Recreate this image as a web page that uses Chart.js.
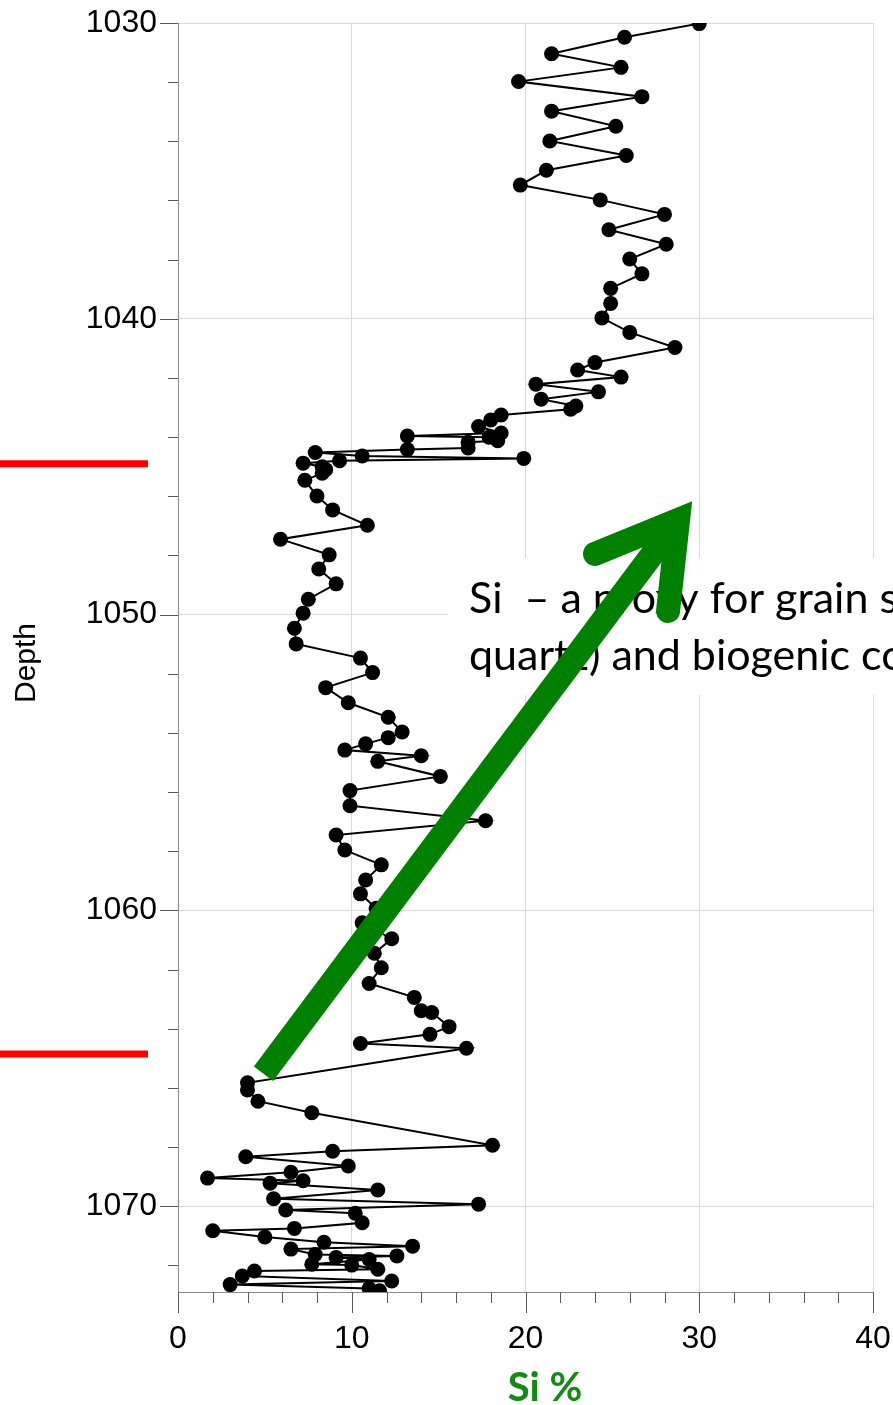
<!DOCTYPE html>
<html>
<head>
<meta charset="utf-8">
<title>Si % vs Depth</title>
<script src="https://cdn.jsdelivr.net/npm/chart.js@4.4.1/dist/chart.umd.min.js"></script>
<style>
  html, body { margin: 0; padding: 0; background: #ffffff; overflow: hidden; }
  canvas { display: block; }
</style>
</head>
<body>
<canvas id="profile" width="893" height="1405"></canvas>
<script>
// Sample depths (m) down the core and the measured silicon content (%)
const depthM = [
  1030.02, 1030.48, 1031.04, 1031.50, 1031.98, 1032.49, 1032.98, 1033.49, 1033.99, 1034.48,
  1034.98, 1035.48, 1035.98, 1036.47, 1036.99, 1037.48, 1037.98, 1038.48, 1038.97, 1039.48,
  1039.97, 1040.46, 1040.97, 1041.48, 1041.73, 1041.97, 1042.21, 1042.47, 1042.72, 1042.95,
  1043.06, 1043.25, 1043.42, 1043.64, 1043.86, 1043.96, 1044.00, 1044.12, 1044.17, 1044.37,
  1044.42, 1044.52, 1044.64, 1044.72, 1044.80, 1044.88, 1045.00, 1045.10, 1045.22, 1045.46,
  1045.99, 1046.46, 1046.98, 1047.45, 1047.98, 1048.46, 1048.96, 1049.48, 1049.95, 1050.46,
  1050.99, 1051.47, 1051.96, 1052.47, 1052.98, 1053.47, 1053.97, 1054.16, 1054.37, 1054.58,
  1054.77, 1054.96, 1055.47, 1055.95, 1056.46, 1056.97, 1057.45, 1057.96, 1058.46, 1058.97,
  1059.44, 1059.93, 1060.42, 1060.96, 1061.45, 1061.94, 1062.47, 1062.94, 1063.39, 1063.45,
  1063.93, 1064.19, 1064.50, 1064.66, 1065.83, 1066.07, 1066.45, 1066.84, 1067.94, 1068.14,
  1068.33, 1068.64, 1068.85, 1069.05, 1069.14, 1069.22, 1069.45, 1069.75, 1069.93, 1070.13,
  1070.24, 1070.56, 1070.75, 1070.83, 1071.04, 1071.22, 1071.35, 1071.45, 1071.63, 1071.68,
  1071.73, 1071.80, 1071.96, 1071.99, 1072.13, 1072.19, 1072.36, 1072.53, 1072.65, 1072.78,
  1072.86
];
const siPct = [
  30.0, 25.7, 21.5, 25.5, 19.6, 26.7, 21.5, 25.2, 21.4, 25.8,
  21.2, 19.7, 24.3, 28.0, 24.8, 28.1, 26.0, 26.7, 24.9, 24.9,
  24.4, 26.0, 28.6, 24.0, 23.0, 25.5, 20.6, 24.2, 20.9, 22.9,
  22.6, 18.6, 18.0, 17.3, 18.6, 13.2, 17.9, 18.4, 16.7, 16.7,
  13.2, 7.9, 10.6, 19.9, 9.3, 7.2, 8.3, 8.5, 8.3, 7.3,
  8.0, 8.9, 10.9, 5.9, 8.7, 8.1, 9.1, 7.5, 7.2, 6.7,
  6.8, 10.5, 11.2, 8.5, 9.8, 12.1, 12.9, 12.1, 10.8, 9.6,
  14.0, 11.5, 15.1, 9.9, 9.9, 17.7, 9.1, 9.6, 11.7, 10.8,
  10.5, 11.4, 10.6, 12.3, 11.3, 11.7, 11.0, 13.6, 14.0, 14.6,
  15.6, 14.5, 10.5, 16.6, 4.0, 4.0, 4.6, 7.7, 18.1, 8.9,
  3.9, 9.8, 6.5, 1.7, 7.2, 5.3, 11.5, 5.5, 17.3, 6.2,
  10.2, 10.6, 6.7, 2.0, 5.0, 8.4, 13.5, 6.5, 7.9, 12.6,
  9.1, 11.0, 7.7, 10.0, 11.5, 4.4, 3.7, 12.3, 3.0, 11.0,
  11.6
];

// Labelled tick values on each axis
const siTickLabels = [0, 10, 20, 30, 40];
const depthTickLabels = [1030, 1040, 1050, 1060, 1070];

// Depths of the two interval boundaries marked in red
const boundaryDepths = [1044.9, 1064.85];

// Trend arrow: tail and head vertex in (Si %, depth)
const trendTail = { si: 4.92, depth: 1065.52 };
const trendHead = { si: 28.78, depth: 1046.80 };

const noteLines = ['Si  \u2013 a proxy for grain size', 'quartz) and biogenic content'];

const points = depthM.map((d, i) => ({ x: siPct[i], y: d }));

const isMultiple = (v, step) => Math.abs(v / step - Math.round(v / step)) < 1e-6;

// Keep the plot box fixed: no extra room reserved for overhanging labels
const fixBox = (s, size) => {
  if (s.isHorizontal()) s.height = size; else s.width = size;
  s.paddingTop = 0; s.paddingBottom = 0; s.paddingLeft = 0; s.paddingRight = 0;
};

// Tick marks: long at labelled values, short at the 2-unit minor steps
const tickMarks = {
  id: 'tickMarks',
  afterDraw(chart) {
    const { ctx, chartArea } = chart;
    const xs = chart.scales.x, ys = chart.scales.y;
    ctx.save();
    ctx.strokeStyle = '#5a5a5a';
    ctx.lineWidth = 1;
    ctx.beginPath();
    xs.ticks.forEach(t => {
      if (!isMultiple(t.value, 2)) return;
      const px = Math.round(xs.getPixelForValue(t.value)) + 0.5;
      const len = isMultiple(t.value, 10) ? 21 : 11;
      ctx.moveTo(px, chartArea.bottom);
      ctx.lineTo(px, chartArea.bottom + len);
    });
    ys.ticks.forEach(t => {
      if (!isMultiple(t.value, 2)) return;
      const py = Math.round(ys.getPixelForValue(t.value)) + 0.5;
      const len = isMultiple(t.value, 10) ? 18 : 10;
      ctx.moveTo(chartArea.left, py);
      ctx.lineTo(chartArea.left - len, py);
    });
    ctx.stroke();
    ctx.restore();
  }
};

// Axis captions, red boundary markers, note box and trend arrow
const overlay = {
  id: 'overlay',
  afterDatasetsDraw(chart) {
    const { ctx } = chart;
    const xs = chart.scales.x, ys = chart.scales.y;
    ctx.save();

    // boundary markers left of the depth axis
    ctx.strokeStyle = '#ff0000';
    ctx.lineWidth = 7;
    boundaryDepths.forEach(d => {
      const py = ys.getPixelForValue(d);
      ctx.beginPath();
      ctx.moveTo(0, py);
      ctx.lineTo(148, py);
      ctx.stroke();
    });

    // axis captions
    ctx.fillStyle = '#000000';
    ctx.font = '30px "Liberation Sans", Arial, sans-serif';
    ctx.textAlign = 'center';
    ctx.textBaseline = 'middle';
    ctx.save();
    ctx.translate(27, 663);
    ctx.rotate(-Math.PI / 2);
    ctx.fillText('Depth', 0, 0);
    ctx.restore();

    ctx.fillStyle = '#138a13';
    ctx.font = 'bold 40px Lato, "Open Sans", sans-serif';
    ctx.textAlign = 'center';
    ctx.textBaseline = 'alphabetic';
    ctx.fillText('Si %', 545, 1401);

    // note box
    ctx.fillStyle = '#ffffff';
    ctx.fillRect(448, 558, 893 - 448, 695 - 558);
    ctx.fillStyle = '#000000';
    ctx.font = '43px Lato, "Open Sans", sans-serif';
    ctx.textAlign = 'left';
    ctx.fillText(noteLines[0], 469, 613);
    ctx.fillText(noteLines[1], 469, 670);

    // trend arrow
    const tx = xs.getPixelForValue(trendTail.si), ty = ys.getPixelForValue(trendTail.depth);
    const hx = xs.getPixelForValue(trendHead.si), hy = ys.getPixelForValue(trendHead.depth);
    ctx.strokeStyle = '#008000';
    ctx.lineWidth = 24;
    ctx.lineCap = 'butt';
    ctx.beginPath();
    ctx.moveTo(tx, ty);
    ctx.lineTo(hx, hy);
    ctx.stroke();
    ctx.lineCap = 'round';
    ctx.lineJoin = 'miter';
    ctx.miterLimit = 10;
    ctx.beginPath();
    ctx.moveTo(hx - 83, hy + 34);
    ctx.lineTo(hx, hy);
    ctx.lineTo(hx - 10, hy + 91);
    ctx.stroke();

    ctx.restore();
  }
};

new Chart(document.getElementById('profile'), {
  type: 'scatter',
  data: {
    datasets: [{
      label: 'Si %',
      data: points,
      showLine: true,
      borderColor: '#000000',
      borderWidth: 2,
      backgroundColor: '#000000',
      pointRadius: 7.5,
      pointBorderWidth: 0,
      pointHoverRadius: 7.5,
      tension: 0
    }]
  },
  options: {
    responsive: false,
    devicePixelRatio: 1,
    animation: false,
    events: [],
    layout: { padding: { top: 23, right: 20, bottom: 0, left: 0 }, autoPadding: false },
    plugins: { legend: { display: false }, tooltip: { enabled: false } },
    scales: {
      x: {
        type: 'linear',
        position: 'bottom',
        min: 0,
        max: 40,
        afterFit: s => fixBox(s, 113),
        border: { display: true, color: '#8c8c8c', width: 1 },
        grid: {
          drawTicks: false,
          lineWidth: 1,
          color: c => (c.tick && isMultiple(c.tick.value, 10)) ? '#d9d9d9' : 'rgba(0,0,0,0)'
        },
        ticks: {
          stepSize: 2,
          autoSkip: false,
          maxRotation: 0,
          includeBounds: false,
          padding: 28,
          color: '#000000',
          font: { family: '"Liberation Sans", Arial, sans-serif', size: 32 },
          callback: v => siTickLabels.includes(v) ? String(v) : ''
        }
      },
      y: {
        type: 'linear',
        reverse: true,
        min: 1030,
        max: 1072.9,
        afterFit: s => fixBox(s, 178),
        border: { display: true, color: '#8c8c8c', width: 1 },
        grid: {
          drawTicks: false,
          lineWidth: 1,
          color: c => (c.tick && isMultiple(c.tick.value, 10)) ? '#d9d9d9' : 'rgba(0,0,0,0)'
        },
        ticks: {
          stepSize: 2,
          autoSkip: false,
          includeBounds: false,
          padding: 21,
          color: '#000000',
          font: { family: '"Liberation Sans", Arial, sans-serif', size: 32 },
          callback: v => depthTickLabels.includes(v) ? String(v) : ''
        }
      }
    }
  },
  plugins: [tickMarks, overlay]
});
</script>
</body>
</html>
